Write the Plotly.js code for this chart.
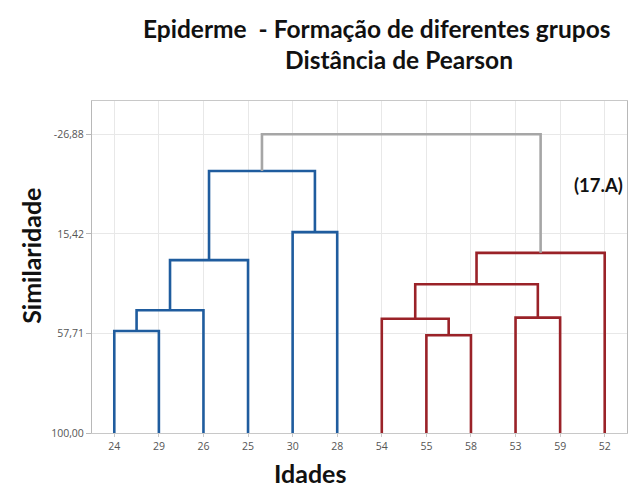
<!DOCTYPE html>
<html>
<head>
<meta charset="utf-8">
<script src="https://cdn.plot.ly/plotly-3.0.1.min.js"></script>
<style>html,body{margin:0;padding:0;background:#fff;}#chart{width:638px;height:490px;}</style>
</head>
<body>
<div id="chart"></div>
<script>
// Leaves (ages) in dendrogram order
const leaves = ['24','29','26','25','30','28','54','55','58','53','59','52'];
// Linkage: child A, child B (node ids; 0-11 are leaves, 12+ are merges in order)
const mergeLeft  = [0, 12, 13, 4, 14, 7, 6, 9, 18, 20, 16];
const mergeRight = [1, 2, 3, 5, 15, 8, 17, 10, 19, 11, 21];
// Merge heights (similarity)
const mergeHeight = [56.7, 47.9, 26.6, 14.7, -11.3, 58.5, 51.5, 51.0, 36.8, 23.5, -26.88];
// Cluster group of each merge
const mergeGroup = ['blue','blue','blue','blue','blue','red','red','red','red','red','root'];
const yTickVals = [-26.88, 15.42, 57.71, 100];
const yTickText = ['-26,88', '15,42', '57,71', '100,00'];

const colors = {blue: '#1f5c9e', red: '#9a2228', root: '#a6a6a6'};

const nLeaves = leaves.length;
const nodeX = leaves.map((_, i) => i);
const nodeY = leaves.map(() => 100);
const traces = [];
for (let k = 0; k < mergeLeft.length; k++) {
  const a = mergeLeft[k], b = mergeRight[k], h = mergeHeight[k];
  const xa = nodeX[a], xb = nodeX[b];
  traces.push({
    type: 'scatter', mode: 'lines',
    x: [xa, xa, xb, xb],
    y: [nodeY[a], h, h, nodeY[b]],
    line: {color: colors[mergeGroup[k]], width: 2.6},
    hoverinfo: 'skip', showlegend: false
  });
  nodeX.push((xa + xb) / 2);
  nodeY.push(h);
}

const L = 91.5, R = 627, T = 100.7, B = 432.7;
const px = x => (x - L) / (R - L);
const py = y => (B - y) / (B - T);

const layout = {
  width: 638, height: 490,
  margin: {l: L, r: 638 - R, t: T, b: 490 - B},
  paper_bgcolor: '#fff', plot_bgcolor: '#fff',
  showlegend: false,
  xaxis: {
    range: [-0.5, nLeaves - 0.5],
    tickvals: leaves.map((_, i) => i), ticktext: leaves,
    showgrid: true, gridcolor: '#e8e8e8', gridwidth: 1,
    zeroline: false, showline: true, linecolor: '#c8c8c8', mirror: true,
    ticks: 'outside', ticklen: 3, tickcolor: '#c8c8c8',
    tickfont: {family: 'Open Sans', size: 10.5, color: '#555'},
    fixedrange: true
  },
  yaxis: {
    range: [100, -41.0],
    tickvals: yTickVals, ticktext: yTickText,
    showgrid: true, gridcolor: '#e8e8e8', gridwidth: 1,
    zeroline: false, showline: true, linecolor: '#b8b8b8', mirror: true,
    ticks: 'outside', ticklen: 5, tickcolor: '#b8b8b8',
    tickfont: {family: 'Open Sans', size: 10.5, color: '#555'},
    fixedrange: true
  },
  annotations: [
    {text: '<b>Epiderme  - Formação de diferentes grupos</b>', xref: 'paper', yref: 'paper',
     x: px(376.5), y: py(28), xanchor: 'center', yanchor: 'middle', showarrow: false,
     font: {family: 'Lato', size: 24.5, color: '#111'}},
    {text: '<b>Distância de Pearson</b>', xref: 'paper', yref: 'paper',
     x: px(399), y: py(59), xanchor: 'center', yanchor: 'middle', showarrow: false,
     font: {family: 'Lato', size: 24.5, color: '#111'}},
    {text: '<b>Similaridade</b>', xref: 'paper', yref: 'paper', textangle: -90,
     x: px(31), y: py(256), xanchor: 'center', yanchor: 'middle', showarrow: false,
     font: {family: 'Lato', size: 25, color: '#111'}},
    {text: '<b>Idades</b>', xref: 'paper', yref: 'paper',
     x: px(310), y: py(473), xanchor: 'center', yanchor: 'middle', showarrow: false,
     font: {family: 'Lato', size: 25, color: '#111'}},
    {text: '<b>(17.A)</b>', xref: 'paper', yref: 'paper',
     x: px(598.5), y: py(185), xanchor: 'center', yanchor: 'middle', showarrow: false,
     font: {family: 'Lato', size: 18.5, color: '#111'}}
  ]
};

Plotly.newPlot('chart', traces, layout, {displayModeBar: false, staticPlot: true});
</script>
</body>
</html>
